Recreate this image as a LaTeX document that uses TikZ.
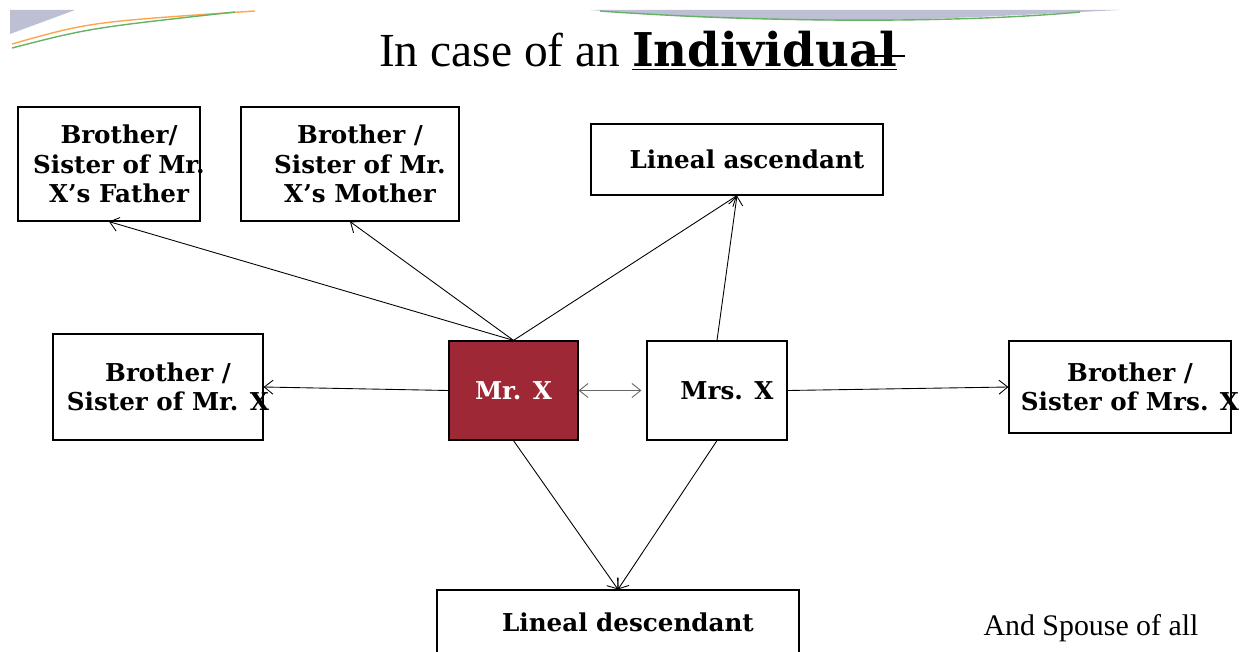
\documentclass[tikz,border=0pt]{standalone}
\usepackage{fontspec}
\setmainfont{Liberation Serif}
\newfontfamily\boxfont{DejaVu Serif}
\usetikzlibrary{arrows.meta}
\definecolor{mrred}{RGB}{158,40,54}
\definecolor{swoosh}{RGB}{160,165,190}
% box text, pushed a little to the right, may run over the frame
\newcommand{\rtxt}[1]{\makebox[0pt]{\hspace*{0.4cm}%
  \raisebox{0pt}[\height][\dimexpr\depth-3.5pt]{\begin{tabular}{@{}c@{}}#1\end{tabular}}}}

\begin{document}
\begin{tikzpicture}[x=0.02cm,y=-0.02cm,line width=0.6pt,
  rel/.style={draw,rectangle,line width=0.7pt,inner sep=0pt,
    font=\boxfont\bfseries\fontsize{14}{17}\selectfont},
  link/.style={-{Straight Barb[length=5pt,width=8pt]},line width=0.5pt}]
\useasboundingbox (0,0) rectangle (1248,652);
% ---------- top swooshes ----------
\fill[swoosh!70] (10,10) -- (75,10) -- (10,34) -- cycle;
\draw[orange!70,line width=0.8pt] (12,44) .. controls (90,22) .. (255,11);
\draw[green!50!black!60,line width=0.8pt] (12,48) .. controls (90,28) .. (235,12);
\fill[swoosh!70] (590,10) -- (1120,10) .. controls (1000,16) and (900,22) .. (800,20)
  .. controls (700,18) .. (590,10);
\draw[green!50!black!60,line width=0.8pt] (600,11) .. controls (750,22) and (950,24) .. (1080,12);
% ---------- title ----------
\node[font=\fontsize{27}{30}\selectfont] (title) at (638,51)
  {In case of an {\boxfont\bfseries\fontsize{26.5}{30}\selectfont\underline{Individual}}};
\draw[line width=1.2pt] (868,56) -- (905,56);
% ---------- boxes ----------
\node[rel,minimum width=3.64cm,minimum height=2.28cm] (fath) at (109,164)
  {\rtxt{Brother/\\Sister of Mr.\\X’s Father}};
\node[rel,minimum width=4.36cm,minimum height=2.28cm] (moth) at (350,164)
  {\rtxt{Brother /\\Sister of Mr.\\X’s Mother}};
\node[rel,minimum width=5.84cm,minimum height=1.42cm] (asc) at (737,159.5)
  {\rtxt{Lineal ascendant}};
\node[rel,minimum width=4.2cm,minimum height=2.12cm] (sibmr) at (158,387)
  {\rtxt{Brother /\\Sister of Mr. X}};
\node[rel,fill=mrred,text=white,minimum width=2.58cm,minimum height=1.98cm] (mrx) at (513.5,390.5)
  {Mr. X};
\node[rel,minimum width=2.8cm,minimum height=1.98cm] (mrsx) at (717,390.5)
  {\rtxt{Mrs. X}};
\node[rel,minimum width=4.44cm,minimum height=1.84cm] (sibmrs) at (1120,387)
  {\rtxt{Brother /\\Sister of Mrs. X}};
\node[rel,minimum width=7.24cm,minimum height=1.28cm] (desc) at (618,622)
  {\rtxt{Lineal descendant}};
\node[font=\fontsize{17}{20}\selectfont] (spouse) at (1091,628) {And Spouse of all};
% ---------- links ----------
\draw[link] (mrx.north) -- (fath.south);
\draw[link] (mrx.north) -- (moth.south);
\draw[link] (mrx.north) -- (asc.south);
\draw[link] (mrsx.north) -- (asc.south);
\draw[link] (mrx.west) -- (sibmr.east);
\draw[{Straight Barb[length=5pt,width=8pt]}-{Straight Barb[length=5pt,width=8pt]},line width=0.5pt,gray!80!black]
  (mrx.east) -- ([xshift=-0.1cm]mrsx.west);
\draw[link] (mrsx.east) -- (sibmrs.west);
\draw[link] (mrx.south) -- (desc.north);
\draw[link] (mrsx.south) -- (desc.north);
\end{tikzpicture}
\end{document}
